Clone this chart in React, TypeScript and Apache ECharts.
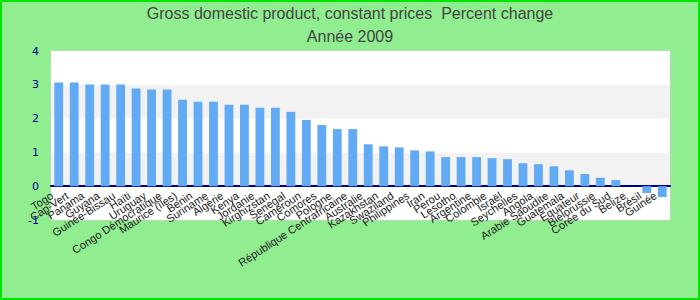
import React, { useEffect, useRef } from "react";
import * as echarts from "echarts";

const titleLine1 = "Gross domestic product, constant prices  Percent change";
const titleLine2 = "Année 2009";

const countries = [
  "Togo", "Cap-Vert", "Panama", "Guyana", "Guinée-Bissau", "Haïti", "Uruguay",
  "Congo Démocratique", "Maurice (îles)", "Benin", "Suriname", "Algérie", "Kenya",
  "Jordanie", "Kirghizstan", "Senegal", "Cameroun", "Comores", "Pologne",
  "République Centrafricaine", "Australie", "Kazakhstan", "Swaziland", "Philippines",
  "Iran", "Perou", "Lesotho", "Argentine", "Colombie", "Israël", "Seychelles",
  "Angola", "Arabie Saoudite", "Guatemala", "Equateur", "Biélorussie", "Corée du Sud",
  "Belize", "Brésil", "Guinée",
];

const growth = [
  3.07, 3.07, 3.01, 3.01, 3.01, 2.89, 2.86, 2.86, 2.56, 2.5, 2.5, 2.41, 2.41,
  2.32, 2.32, 2.2, 1.96, 1.81, 1.69, 1.69, 1.24, 1.18, 1.15, 1.06, 1.03, 0.86,
  0.86, 0.86, 0.83, 0.8, 0.68, 0.65, 0.59, 0.47, 0.36, 0.25, 0.18, 0, -0.2, -0.32,
];

const yMin = -1;
const yMax = 4;
const yStep = 1;

export default function App() {
  const ref = useRef<HTMLDivElement>(null);

  useEffect(() => {
    document.body.style.margin = "0";
    if (!ref.current) return;
    const chart = echarts.init(ref.current, null, { renderer: "svg" });
    chart.setOption({
      animation: false,
      backgroundColor: "#90ee90",
      graphic: [
        {
          type: "rect",
          shape: { x: 1, y: 1, width: 698, height: 298 },
          style: { fill: "none", stroke: "#00e600", lineWidth: 2 },
          silent: true,
        },
      ],
      title: {
        text: titleLine1 + "\n" + titleLine2,
        left: "center",
        top: 2,
        padding: 0,
        textStyle: {
          fontFamily: "Liberation Sans",
          fontSize: 16,
          fontWeight: "normal",
          color: "#444444",
          lineHeight: 23,
        },
      },
      grid: {
        left: 51,
        right: 30,
        top: 51,
        bottom: 80,
        show: true,
        backgroundColor: "#ffffff",
        borderColor: "#d0d0d0",
        borderWidth: 1,
        containLabel: false,
      },
      xAxis: {
        type: "category",
        data: countries,
        axisLine: { onZero: true, lineStyle: { color: "#00008b", width: 2 } },
        axisTick: { show: false },
        axisLabel: {
          interval: 0,
          rotate: 33,
          margin: -30,
          fontFamily: "Liberation Sans",
          fontSize: 11,
          color: "#1a1a1a",
          padding: [0, 8, 0, 0],
        },
        splitLine: { show: false },
      },
      yAxis: {
        type: "value",
        min: yMin,
        max: yMax,
        interval: yStep,
        axisLine: { show: false },
        axisTick: { show: false },
        axisLabel: {
          margin: 12,
          fontFamily: "DejaVu Sans",
          fontSize: 11,
          color: "#00008b",
        },
        splitLine: { show: false },
        splitArea: { show: true, areaStyle: { color: ["#ffffff", "#f2f2f2"] } },
      },
      series: [
        {
          type: "bar",
          data: growth,
          barWidth: "57%",
          itemStyle: { color: "#62aaf4" },
        },
      ],
    });
    return () => chart.dispose();
  }, []);

  return <div ref={ref} style={{ width: 700, height: 300 }} />;
}
